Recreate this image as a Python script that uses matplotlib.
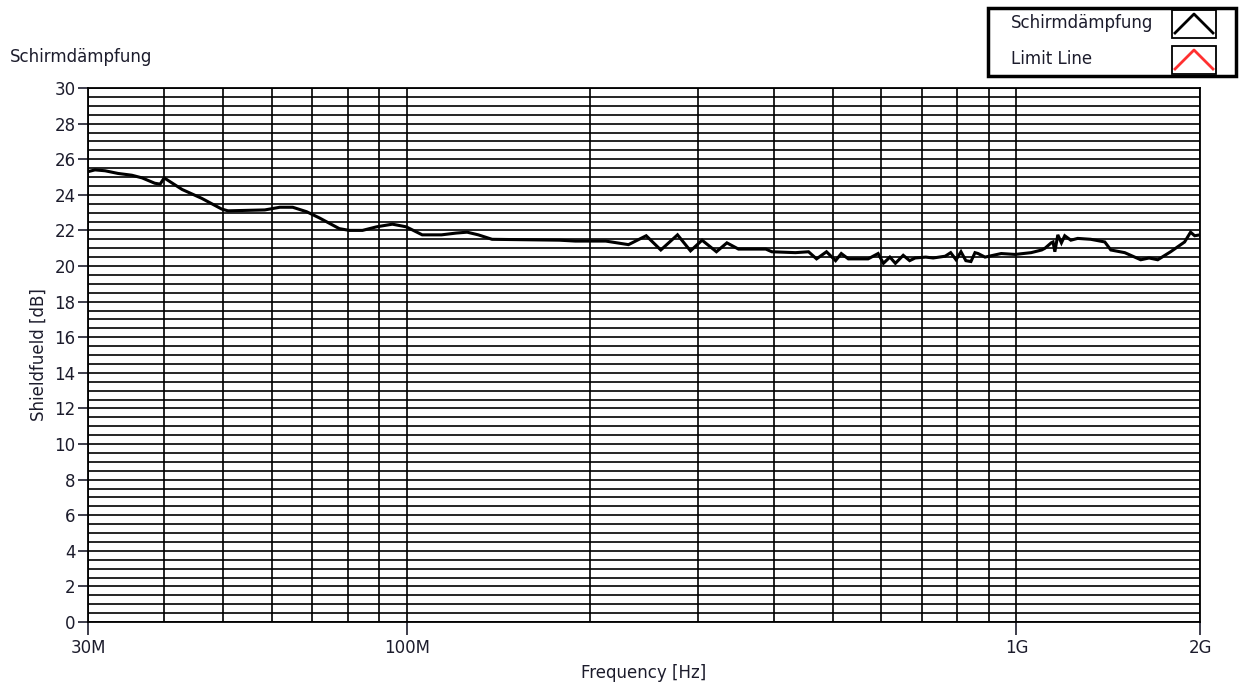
import numpy as np
import matplotlib
matplotlib.use("Agg")
import matplotlib.pyplot as plt
from matplotlib.lines import Line2D
from matplotlib.patches import Rectangle

# frequency [MHz] and shield attenuation [dB]
freq_mhz = [30, 30.8, 32.0, 33.6, 35.4, 36.8, 38.6, 39.4, 40.0, 42.8, 46.1, 49.7,
            50.9, 58.5, 61.9, 65.0, 68.5, 71.9, 77.5, 80.5, 84.6, 89.2, 94.7, 99.8,
            106, 114, 120.5, 125.6, 131, 138, 178, 189, 199, 212, 231, 247, 261,
            278, 292, 305, 322, 335, 350, 388, 397, 434, 456, 470, 488, 505, 516,
            530, 571, 593, 605, 620, 633, 652, 668, 682, 710, 730, 764, 780, 796,
            811, 826, 842, 855, 865, 888, 944, 995, 1057, 1100, 1114, 1140, 1148,
            1156, 1169, 1185, 1200, 1228, 1260, 1324, 1396, 1428, 1505, 1599, 1650,
            1705, 1790, 1887, 1930, 1960, 2000]
shield_db = [25.3, 25.4, 25.35, 25.2, 25.1, 24.95, 24.65, 24.6, 24.95, 24.3, 23.8, 23.2,
             23.1, 23.15, 23.3, 23.3, 23.05, 22.7, 22.1, 22.0, 22.0, 22.2, 22.35, 22.2,
             21.75, 21.75, 21.85, 21.9, 21.75, 21.5, 21.45, 21.4, 21.4, 21.4, 21.2, 21.7, 20.9,
             21.75, 20.85, 21.45, 20.8, 21.3, 20.95, 20.95, 20.8, 20.75, 20.8, 20.4, 20.8, 20.3, 20.7,
             20.4, 20.4, 20.7, 20.15, 20.5, 20.15, 20.6, 20.3, 20.45, 20.5, 20.45, 20.55, 20.75, 20.35,
             20.8, 20.3, 20.25, 20.75, 20.7, 20.5, 20.7, 20.65, 20.75, 20.9, 21.0, 21.3, 21.35,
             20.8, 21.75, 21.3, 21.7, 21.45, 21.55, 21.5, 21.35, 20.9, 20.75, 20.35, 20.45,
             20.35, 20.8, 21.35, 21.9, 21.7, 21.75]

x_ticks = [30e6, 100e6, 1e9, 2e9]
x_labels = ["30M", "100M", "1G", "2G"]
x_grid = [30e6, 40e6, 50e6, 60e6, 70e6, 80e6, 90e6,
          100e6, 200e6, 300e6, 400e6, 500e6, 600e6, 700e6, 800e6, 900e6,
          1e9, 2e9]

plt.rcParams['font.family'] = ['DejaVu Sans']
txt = '#1c1c2c'
fs = 12

fig = plt.figure(figsize=(12.39, 6.87), dpi=100)
ax = fig.add_axes([88 / 1239, 65 / 687, 1112 / 1239, 534 / 687])

ax.set_xscale('log')
ax.set_xlim(30e6, 2e9)
ax.set_ylim(0, 30)

ax.set_xticks(x_grid, minor=True)
ax.set_xticks(x_ticks)
ax.set_xticklabels(x_labels)
ax.set_yticks(np.arange(0, 31, 2))
ax.set_yticks(np.arange(0, 30.1, 0.5), minor=True)
ax.tick_params(which='minor', length=0)
ax.tick_params(axis='y', which='major', direction='out', length=7, width=1.2,
               pad=2, labelsize=fs, colors=txt)
ax.tick_params(axis='x', which='major', direction='out', length=9, width=1.2,
               pad=3, labelsize=fs, colors=txt)
ax.xaxis.set_minor_formatter(plt.NullFormatter())

ax.grid(True, which='both', color='black', linewidth=1.2)
ax.set_axisbelow(True)
for s in ax.spines.values():
    s.set_color('black')
    s.set_linewidth(1.3)

ax.plot(np.array(freq_mhz) * 1e6, shield_db, color='black', linewidth=2.2,
        solid_joinstyle='miter')

ax.set_xlabel("Frequency [Hz]", fontsize=fs, color=txt, labelpad=5)
ax.set_ylabel("Shieldfueld [dB]", fontsize=fs, color=txt, labelpad=5)
fig.text(10 / 1239, 1 - 57 / 687, "Schirmdämpfung", fontsize=fs, color=txt,
         ha='left', va='center')

# legend box in the top right corner
W, H = 1239, 687
def fx(px):
    return px / W
def fy(py):
    return 1 - py / H

fig.patches.append(Rectangle((fx(988), fy(76)), fx(1236) - fx(988), fy(8) - fy(76),
                             transform=fig.transFigure, fill=False,
                             edgecolor='black', linewidth=2.5))
legend_items = [("Schirmdämpfung", 'black', 23, 10, 38),
                ("Limit Line", '#ff3030', 59, 46, 74)]
for label, col, ty, top, bot in legend_items:
    fig.text(fx(1011), fy(ty), label, fontsize=fs, color=txt, ha='left', va='center')
    fig.patches.append(Rectangle((fx(1172), fy(bot)), fx(1216) - fx(1172), fy(top) - fy(bot),
                                 transform=fig.transFigure, fill=False,
                                 edgecolor='black', linewidth=1.3))
    fig.lines.append(Line2D([fx(1175), fx(1194), fx(1213)],
                            [fy(bot - 5), fy(top + 4), fy(bot - 5)],
                            transform=fig.transFigure, color=col, linewidth=2))

fig.savefig("out.png", dpi=100)
